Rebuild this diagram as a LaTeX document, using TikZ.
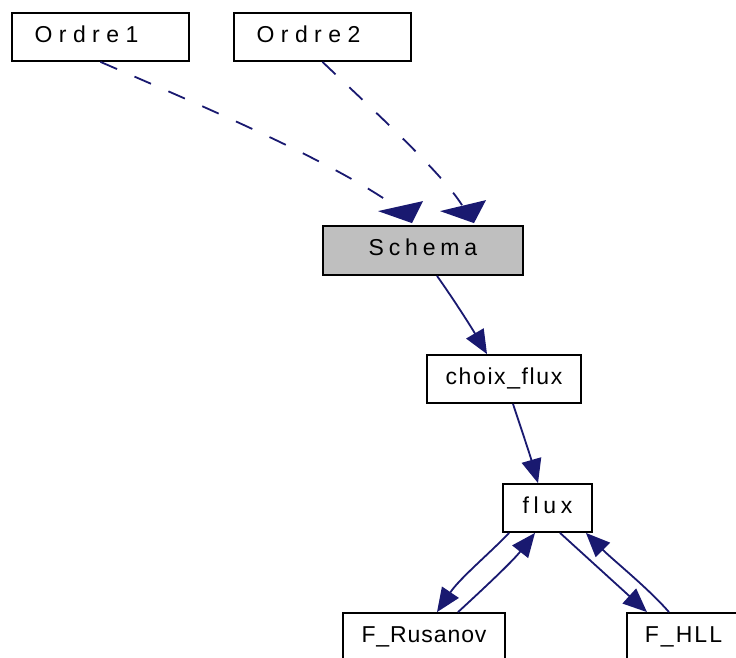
\documentclass[tikz,border=0pt]{standalone}
\usepackage{fontspec}
\setmainfont{Liberation Sans}
\usetikzlibrary{arrows.meta,calc}
\definecolor{edgecol}{RGB}{25,25,112}
\definecolor{schemagray}{RGB}{191,191,191}
\begin{document}
\begin{tikzpicture}[x=1pt,y=-1pt,
  box/.style={draw=black, line width=1.8pt, fill=white, rectangle, inner sep=0pt,
    text height=16pt, text depth=6pt, minimum height=48pt},
  ls/.style={font=\fontsize{23}{26}\selectfont\addfontfeature{LetterSpace=#1}},
  edge/.style={draw=edgecol, line width=1.8pt, -{Triangle[length=24pt,width=20pt]}},
  dedge/.style={draw=edgecol, line width=1.8pt, dash pattern=on 18pt off 19pt},
  headfill/.style={fill=edgecol},
]
\useasboundingbox (0,0) rectangle (736,657);
\clip (0,0) rectangle (736,657);

% nodes
\node[box, ls=28, minimum width=177pt] (Ordre1) at (100.5,37) {Ordre1\kern28pt};
\node[box, ls=28, minimum width=177pt] (Ordre2) at (322.5,37) {Ordre2\kern28pt};
\node[box, ls=21, minimum width=200pt, minimum height=49pt, fill=schemagray] (Schema) at (423,250.5) {Schema};
\node[box, ls=7, minimum width=154pt] (choix) at (504,379) {choix\_flux};
\node[box, ls=20, minimum width=89pt] (flux) at (547.5,508) {flux};
\node[box, ls=4, minimum width=162pt] (rus) at (424,637) {F\_Rusanov};
\node[box, ls=9, minimum width=113pt] (hll) at (683.5,637) {F\_HLL};

% dashed edges to Schema
\draw[dedge] (Ordre1.south) .. controls (200,105) and (330,160) .. ($(Schema.north)+(-28,-19)$);
\fill[headfill, shift={(Schema.north)}] (-45,-14) -- (0,-24) -- (-11,-2) -- cycle;
\draw[dedge] (Ordre2.south) .. controls (360,98) and (440,170) .. ($(Schema.north)+(39,-20)$);
\fill[headfill, shift={(Schema.north)}] (17,-14) -- (63,-25) -- (51,-2) -- cycle;

% solid edges
\draw[edge] ($(Schema.south)+(14,0)$) .. controls (452,297) and (470,325) .. ($(choix.north)+(-17,0)$);
\draw[edge] ($(choix.south)+(9,0)$) .. controls (519,422) and (530,455) .. ($(flux.north)+(-9.5,0)$);
\draw[edge] ($(flux.south west)+(7,0)$) .. controls (490,553) and (460,578) .. ($(rus.north)+(13,0)$);
\draw[edge] ($(rus.north)+(34,0)$) .. controls (482,590) and (512,562) .. ($(flux.south)+(-12.5,0)$);
\draw[edge] ($(flux.south)+(12.5,0)$) -- ($(hll.north)+(-36.5,0)$);
\draw[edge] ($(hll.north)+(-14.5,0)$) .. controls (648,588) and (613,560) .. ($(flux.south east)+(-7,0)$);
\end{tikzpicture}
\end{document}
